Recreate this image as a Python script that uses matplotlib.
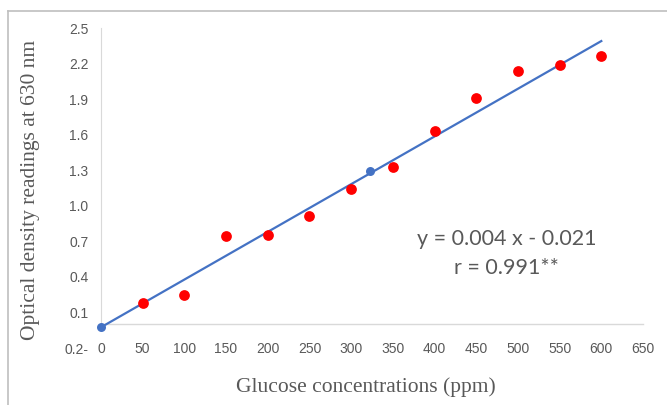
import matplotlib.pyplot as plt
from matplotlib.lines import Line2D

# data
glucose = [50, 100, 150, 200, 250, 300, 350, 400, 450, 500, 550, 600]
od_readings = [0.18, 0.25, 0.745, 0.753, 0.914, 1.14, 1.33, 1.627, 1.91, 2.14, 2.19, 2.26]
blue_x = [0, 323]
blue_y = [-0.025, 1.29]
trend_x = [0, 600]
trend_y = [-0.025, 2.39]
x_ticks = [0, 50, 100, 150, 200, 250, 300, 350, 400, 450, 500, 550, 600, 650]
y_ticks = [-0.2, 0.1, 0.4, 0.7, 1.0, 1.3, 1.6, 1.9, 2.2, 2.5]
y_ticklabels = ['0.2-', '0.1', '0.4', '0.7', '1.0', '1.3', '1.6', '1.9', '2.2', '2.5']

grey = '#595959'
blue = '#4472C4'

fig = plt.figure(figsize=(6.67, 4.05), dpi=100)
fig.patch.set_facecolor('white')
ax = fig.add_axes([0.1514, 0.1407, 0.8126, 0.7901])

ax.plot(trend_x, trend_y, color=blue, linewidth=1.6, zorder=2)
ax.scatter(glucose, od_readings, s=60, color='#FF0000', zorder=3, linewidths=0, clip_on=False)
ax.scatter(blue_x, blue_y, s=42, color=blue, zorder=3, linewidths=0, clip_on=False)

ax.set_xlim(0, 650)
ax.set_ylim(-0.2, 2.5)
ax.set_xticks(x_ticks)
ax.set_xticklabels([str(v) for v in x_ticks])
ax.set_yticks(y_ticks)
ax.set_yticklabels(y_ticklabels)

for side in ['top', 'right', 'bottom']:
    ax.spines[side].set_visible(False)
ax.spines['left'].set_bounds(0, 2.5)
ax.spines['left'].set_color('#D9D9D9')
ax.plot([0, 650], [0, 0], color='#D9D9D9', linewidth=1.0, zorder=1, clip_on=False)

ax.tick_params(axis='both', length=0, labelsize=10, labelcolor=grey,
               labelfontfamily='Liberation Sans')
ax.tick_params(axis='x', pad=-4)
ax.tick_params(axis='y', pad=9)

fig.text(0.5487, 0.0444, 'Glucose concentrations (ppm)', ha='center', va='center',
         fontsize=15.5, color=grey, family='Liberation Serif')
fig.text(0.045, 0.531, 'Optical density readings at 630 nm', ha='center', va='center',
         rotation=90, fontsize=15.5, color=grey, family='Liberation Serif')

fig.text(0.760, 1 - 239 / 405, 'y = 0.004 x - 0.021', ha='center', va='center',
         fontsize=15.5, color=grey, family='Lato')
fig.text(0.760, 1 - 268 / 405, 'r = 0.991**', ha='center', va='center',
         fontsize=15.5, color=grey, family='Lato')

# outer chart border (partly cut off in the reference)
fig.add_artist(Line2D([8 / 667, 8 / 667], [0, 1 - 11 / 405], color='#BFBFBF', linewidth=1.2))
fig.add_artist(Line2D([8 / 667, 1], [1 - 11 / 405, 1 - 11 / 405], color='#BFBFBF', linewidth=1.2))

fig.savefig('out.png', dpi=100)
